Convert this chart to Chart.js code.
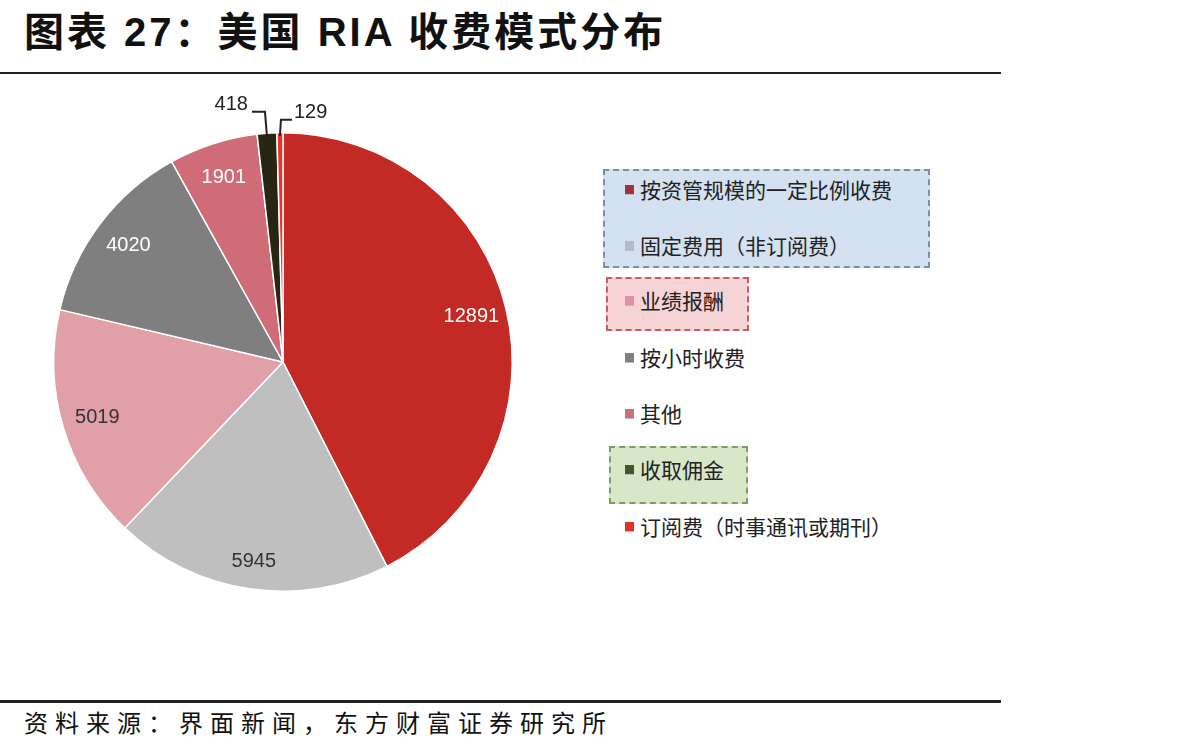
<!DOCTYPE html>
<html>
<head>
<meta charset="utf-8">
<script src="https://cdn.jsdelivr.net/npm/chart.js@4"></script>
<style>
  body { margin: 0; background: #fff; width: 1192px; height: 755px; position: relative; overflow: hidden;
         font-family: "Liberation Sans", "Noto Sans CJK SC", sans-serif; }
  #title { position: absolute; left: 24px; top: 0px; font-size: 40px; font-weight: bold; color: #111;
           font-family: "Liberation Sans", "Noto Sans CJK SC", sans-serif; letter-spacing: 3px; }
  #topline { position: absolute; left: 0; top: 72px; width: 1001px; height: 2px; background: #222; }
  #botline { position: absolute; left: 0; top: 700px; width: 1001px; height: 3px; background: #222; }
  #source { position: absolute; left: 24px; top: 704px; font-size: 24px; color: #111; letter-spacing: 7px;
            font-family: "Noto Sans CJK SC", sans-serif; }
  #wrap { position: absolute; left: 33px; top: 82px; width: 500px; height: 560px; }
  .box { position: absolute; border: 2px dashed; }
  .item { position: absolute; left: 625px; font-size: 21px; color: #222; font-family: "Noto Sans CJK SC", sans-serif;
          line-height: 26px; }
  .item i { display: inline-block; width: 9px; height: 9px; margin-right: 6px; vertical-align: 3px;
            border-bottom: 1px solid #bbb; }
</style>
</head>
<body>
<div id="title">图表 27：美国 RIA 收费模式分布</div>
<div id="topline"></div>
<div class="box" style="left:603px;top:169px;width:323px;height:95px;background:#d3e1f1;border-color:#7d8fa8;"></div>
<div class="box" style="left:606px;top:277px;width:139px;height:50px;background:#f6d3d5;border-color:#c85a64;"></div>
<div class="box" style="left:609px;top:446px;width:135px;height:54px;background:#d9e7c9;border-color:#7e9c66;"></div>
<div id="legend"></div>
<div id="wrap"><canvas id="pie"></canvas></div>
<div id="botline"></div>
<div id="source">资料来源：界面新闻，东方财富证券研究所</div>
<script>
// categories and values, clockwise from 12 o'clock
var labels = ['按资管规模的一定比例收费', '固定费用（非订阅费）', '业绩报酬', '按小时收费', '其他', '收取佣金', '订阅费（时事通讯或期刊）'];
var values = [12891, 5945, 5019, 4020, 1901, 418, 129];
var colors = ['#c42a25', '#bfbfbf', '#e1a0a7', '#7f7f7f', '#d06b78', '#262612', '#e8342c'];
var legendColors = ['#a8303c', '#b4bcc6', '#e0939c', '#808080', '#d06b78', '#3f5a22', '#e0302a'];
var labelColors = ['#fff', '#333', '#333', '#fff', '#fff', '#222', '#222'];
var legendRows = [189, 245, 300, 357, 413, 469, 526];

// legend built from the arrays
var lg = document.getElementById('legend');
labels.forEach(function (l, i) {
    var d = document.createElement('div');
    d.className = 'item';
    d.style.top = (legendRows[i] - 13) + 'px';
    d.innerHTML = '<i style="background:' + legendColors[i] + '"></i>' + l;
    lg.appendChild(d);
});

//////value labels on slices//////
var valueLabels = {
    id: 'valueLabels',
    afterDatasetsDraw: function (chart) {
        var ctx = chart.ctx;
        var meta = chart.getDatasetMeta(0);
        var total = values.reduce(function (a, b) { return a + b; });
        ctx.save();
        ctx.font = '20px "Liberation Sans", Arial, sans-serif';
        ctx.textBaseline = 'middle';
        meta.data.forEach(function (arc, i) {
            var p = arc.getProps(['x', 'y', 'startAngle', 'endAngle', 'outerRadius']);
            var mid = (p.startAngle + p.endAngle) / 2;
            var v = values[i];
            if (v / total > 0.03) {
                var rr = p.outerRadius * (i === 1 ? 0.88 : 0.845);
                ctx.fillStyle = labelColors[i];
                ctx.textAlign = 'center';
                ctx.fillText(v, p.x + Math.cos(mid) * rr, p.y + Math.sin(mid) * rr);
            } else {
                // small slices: label outside with an elbow leader line
                var ex = p.x + Math.cos(mid) * p.outerRadius;
                var ey = p.y + Math.sin(mid) * p.outerRadius + 3;
                var left = i === 5;
                var ky = left ? p.y - p.outerRadius - 21 : p.y - p.outerRadius - 13;
                var kx = left ? ex - 2 : ex + 1;
                var hx = left ? kx - 13 : kx + 11;
                ctx.strokeStyle = '#222';
                ctx.lineWidth = 2;
                ctx.beginPath();
                ctx.moveTo(ex, ey);
                ctx.lineTo(kx, ky);
                ctx.lineTo(hx, ky);
                ctx.stroke();
                ctx.fillStyle = '#222';
                ctx.textAlign = left ? 'right' : 'left';
                ctx.fillText(v, left ? hx - 4 : hx + 2, ky - 7);
            }
        });
        ctx.restore();
    }
};

var ctx = document.getElementById('pie').getContext('2d');
var chart = new Chart(ctx, {
    type: 'pie',
    data: {
        labels: labels,
        datasets: [{
            data: values,
            backgroundColor: colors,
            borderColor: '#fff',
            borderWidth: 1.5
        }]
    },
    options: {
        responsive: true,
        maintainAspectRatio: false,
        animation: false,
        layout: { padding: { left: 20, right: 20, top: 50, bottom: 50 } },
        plugins: {
            legend: { display: false },
            tooltip: { enabled: false }
        }
    },
    plugins: [valueLabels]
});
</script>
</body>
</html>
